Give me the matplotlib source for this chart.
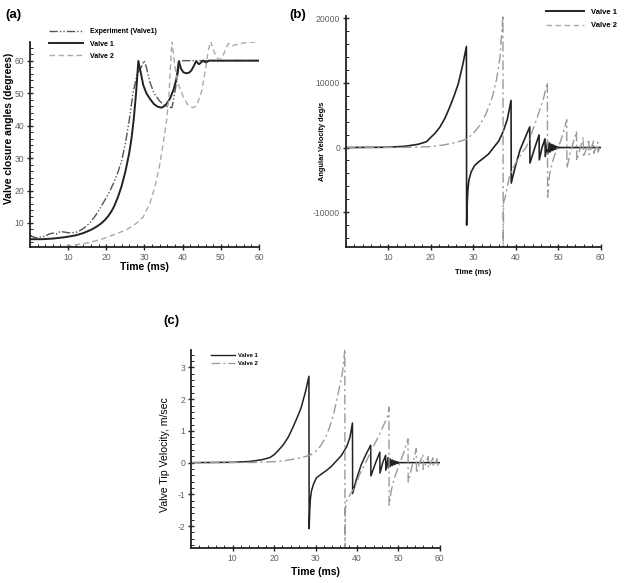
import numpy as np
import matplotlib.pyplot as plt
from matplotlib.lines import Line2D
from matplotlib.ticker import MultipleLocator

# Datos
# (a) angulo de cierre de la valvula (grados)
a_exp_t = [0, 1, 2, 3, 4, 5, 6, 7, 8, 9, 10, 11, 12, 13, 14, 15, 16, 17, 18, 19, 20,
           21, 22, 23, 24, 25, 26, 27, 28, 28.8, 29.3, 29.9, 30.5, 31.4, 32.5, 34, 35.5,
           37.2, 38.0, 38.7, 39.3, 47, 60]
a_exp_v = [6.3, 5.6, 5.4, 5.8, 5.9, 6.6, 6.9, 6.6, 7.4, 7.2, 7.0, 7.0, 7.1, 7.6, 8.3,
           9.3, 10.5, 12.0, 13.8, 15.8, 17.8, 20.0, 22.5, 25.5, 29.0, 34.5, 41.5, 50.0,
           55.5, 57.5, 58.2, 60.0, 58.0, 53.5, 50.0, 47.5, 46.0, 45.5, 50.5, 55.5, 60.0,
           60.0, 60.0]

a_v1_t = [0, 3, 6, 9, 12, 14, 16, 17.5, 18.7, 19.7, 20.5, 21.3, 22, 23, 24, 25, 26, 26.6,
          27.2, 27.8, 28.4, 29, 29.7, 30.5, 31.4, 32.5, 33.5, 34.5, 35.5, 36.7, 37.6, 38.4,
          39.0, 39.6, 40.2, 41.0, 41.7, 42.3, 43.0, 43.5, 44.3, 45.4, 46.1, 46.9, 60]
a_v1_v = [5.0, 5.0, 5.2, 5.6, 6.2, 6.9, 7.9, 8.9, 9.9, 11.0, 12.1, 13.5, 15.0, 17.8,
          21.3, 25.8, 31.5, 36.0, 42.0, 50.0, 59.9, 56.5, 52.4, 50.0, 48.3, 46.6, 45.8,
          45.5, 46.2, 48.3, 51.0, 54.5, 59.8, 57.5, 56.4, 56.1, 56.3, 57.0, 58.5, 59.8,
          58.9, 60.0, 59.4, 60.0, 60.0]

a_v2_t = [0, 5, 8, 10, 14.8, 18.3, 21.8, 25.3, 27.9, 29.7, 31.4, 32.7, 33.9, 34.9, 35.8,
          36.4, 36.8, 37.2, 38.0, 38.8, 40.2, 41.5, 42.8, 43.7, 45.0, 46.1, 46.7, 47.3,
          48.5, 49.3, 50.2, 51.1, 52.0, 52.8, 54.1, 56.8, 60]
a_v2_v = [1.5, 2.0, 2.6, 2.9, 3.8, 4.8, 6.3, 7.9, 9.9, 11.9, 16.0, 21.1, 27.3, 34.4,
          41.6, 48.8, 58.0, 66.0, 58.0, 52.9, 48.8, 46.1, 45.5, 46.1, 50.7, 58.0, 63.0,
          66.0, 62.0, 60.5, 60.5, 63.0, 65.3, 64.5, 65.0, 65.6, 65.8]

# (b) velocidad angular (deg/s)
b_v1_t = [0, 10, 14, 17, 19, 19.8, 21, 22.2, 23.4, 24.5, 25.5, 26.5, 27.6, 28.4, 28.45,
          28.6, 28.75, 29.0, 29.5, 30.3, 31.3, 32.5, 33.6, 34.8, 36.0, 37.0, 38.0, 38.9,
          38.95, 39.8, 41.0, 42.2, 43.3, 43.35, 44.5, 45.5, 45.55, 46.2, 46.9, 46.95,
          47.5, 47.55, 48.0, 48.05, 48.45, 48.5, 48.85, 48.9, 49.2, 49.25, 49.55, 49.6,
          49.9, 49.95, 50.3, 50.6, 60]
b_v1_v = [0, 50, 200, 500, 900, 1440, 2200, 3200, 4600, 6300, 8000, 9900, 13000, 15650,
          -12000, -8500, -6500, -5000, -3800, -2800, -2200, -1600, -1000, 0, 1000, 2400,
          4300, 7300, -5500, -3200, -400, 1500, 3200, -2400, 0, 1950, -1900, 0, 1350,
          -1400, 900, -950, 700, -700, 500, -500, 380, -380, 260, -260, 170, -170, 100,
          -100, 30, 0, 0]

b_v2_t = [0, 15, 20, 23, 26, 28.5, 30, 31.5, 33, 34.5, 35.5, 36.3, 37.0, 37.05, 37.15,
          37.6, 38.5, 39.5, 40.5, 41.5, 42.5, 43.5, 44.5, 45.5, 46.5, 47.45, 47.5, 48.0,
          48.8, 49.5, 50.4, 51.2, 52.0, 52.05, 52.8, 53.5, 54.3, 54.35, 55.0, 55.9, 55.95,
          56.6, 57.2, 57.25, 57.8, 58.3, 58.35, 58.9, 59.3, 59.35, 59.8, 60]
b_v2_v = [0, 30, 150, 400, 800, 1300, 2200, 3400, 5200, 7800, 10600, 14000, 20500,
          -16500, -8500, -7500, -4500, -3000, -1800, -800, 100, 1800, 3600, 5500, 7500,
          10100, -7700, -4000, -1900, -500, 700, 2300, 4300, -3200, -800, 700, 2500,
          -2000, -500, 1600, -1500, -200, 1300, -1100, -100, 1000, -900, 0, 800, -700,
          0, 300]

# (c) velocidad de la punta (m/s)
c_v1_t = [0, 10, 14, 17, 19, 20, 21, 22.2, 23.4, 24.5, 25.5, 26.5, 27.6, 28.4, 28.45,
          28.6, 28.75, 29.0, 29.5, 30.2, 31.3, 32.6, 33.8, 35.0, 36.2, 37.5, 38.3, 38.9,
          38.95, 39.8, 41.0, 42.2, 43.3, 43.35, 44.5, 45.5, 45.55, 46.2, 46.9, 46.95,
          47.5, 47.55, 48.0, 48.05, 48.45, 48.5, 48.85, 48.9, 49.2, 49.25, 49.55, 49.6,
          49.9, 49.95, 50.3, 50.6, 60]
c_v1_v = [0, 0.01, 0.035, 0.09, 0.16, 0.25, 0.38, 0.56, 0.8, 1.1, 1.4, 1.72, 2.25, 2.72,
          -2.08, -1.5, -1.15, -0.9, -0.68, -0.48, -0.37, -0.25, -0.12, 0.05, 0.22, 0.5,
          0.8, 1.25, -0.97, -0.55, -0.07, 0.27, 0.55, -0.42, 0.0, 0.33, -0.33, 0.0, 0.23,
          -0.24, 0.16, -0.17, 0.12, -0.12, 0.09, -0.09, 0.065, -0.065, 0.045, -0.045,
          0.03, -0.03, 0.018, -0.018, 0.005, 0, 0]

c_v2_t = [0, 15, 20, 23, 26, 28.6, 30, 31, 32.3, 33.4, 34.3, 35.1, 35.8, 36.3, 36.7,
          37.06, 37.1, 37.2, 37.5, 38.5, 39.5, 40.7, 41.9, 43.1, 44.3, 45.5, 46.5, 47.5,
          47.7, 47.75, 48.3, 49.1, 50.3, 51.3, 52.3, 52.35, 53.3, 54.3, 54.35, 55.1,
          55.9, 55.95, 56.6, 57.2, 57.25, 57.8, 58.3, 58.35, 58.9, 59.3, 59.35, 59.8, 60]
c_v2_v = [0, 0.005, 0.03, 0.07, 0.14, 0.23, 0.35, 0.49, 0.75, 1.12, 1.5, 1.96, 2.4, 2.69,
          3.05, 3.6, -3.0, -1.45, -1.19, -0.97, -0.77, -0.35, -0.05, 0.28, 0.6, 0.91,
          1.2, 1.49, 1.75, -1.34, -0.85, -0.45, -0.03, 0.33, 0.75, -0.61, -0.1, 0.44,
          -0.33, 0.0, 0.26, -0.21, -0.02, 0.2, -0.16, -0.02, 0.15, -0.12, 0.0, 0.12,
          -0.1, 0.0, 0.05]

plt.rcParams['font.family'] = ['Liberation Sans', 'DejaVu Sans']
plt.rcParams['axes.unicode_minus'] = False

DARK = '#222222'
GRAY = '#9a9a9a'
TICK = '#606060'
DASHDOT = (0, (7, 2.5, 1.5, 2.5))
EXPSTYLE = (0, (6, 1.5, 1, 1.5, 1, 1.5))


def estilo_ejes(ax, ymin_step):
    # estilo tipo Tecplot: solo ejes izquierdo e inferior, ticks hacia dentro
    for s in ['top', 'right']:
        ax.spines[s].set_visible(False)
    for s in ['left', 'bottom']:
        ax.spines[s].set_linewidth(1.3)
        ax.spines[s].set_color(DARK)
    ax.set_xlim(0, 60)
    ax.set_xticks([10, 20, 30, 40, 50, 60])
    ax.xaxis.set_minor_locator(MultipleLocator(2))
    ax.yaxis.set_minor_locator(MultipleLocator(ymin_step))
    ax.tick_params(which='major', direction='inout', length=5, width=1.0,
                   color=DARK, labelcolor=TICK, labelsize=6.2, pad=1.5)
    ax.tick_params(which='minor', direction='in', length=2.5, width=0.7, color=DARK)


fig = plt.figure(figsize=(6.24, 5.83), dpi=100)

# ---------- (a) ----------
ax_a = fig.add_axes([0.048, 0.5763, 0.367, 0.352])
ax_a.plot(a_exp_t, a_exp_v, color='#555555', lw=1.0, linestyle=EXPSTYLE)
ax_a.plot(a_v1_t, a_v1_v, color=DARK, lw=1.4)
ax_a.plot(a_v2_t, a_v2_v, color='#aaaaaa', lw=1.0, linestyle=(0, (4, 2.5)))
ax_a.set_ylim(2.6, 65.8)
ax_a.set_yticks([10, 20, 30, 40, 50, 60])
estilo_ejes(ax_a, 2)
ax_a.set_xlabel('Time (ms)', fontsize=7.5, fontweight='bold', labelpad=0)
ax_a.set_ylabel('Valve closure angles (degrees)', fontsize=7.4, fontweight='bold')
ax_a.yaxis.set_label_coords(-0.07, 0.58)

h_a = [Line2D([], [], color='#555555', lw=1.0, linestyle=EXPSTYLE),
       Line2D([], [], color=DARK, lw=1.4),
       Line2D([], [], color='#aaaaaa', lw=1.0, linestyle=(0, (4, 2.5)))]
fig.legend(h_a, ['Experiment (Valve1)', 'Valve 1', 'Valve 2'], loc='upper left',
           bbox_to_anchor=(0.068, 0.962), frameon=False, handlelength=4.9,
           handletextpad=1.0, labelspacing=0.75,
           prop={'size': 5, 'weight': 'bold'})

fig.text(0.008, 0.985, '(a)', fontsize=9.5, fontweight='bold', va='top')

# ---------- (b) ----------
ax_b = fig.add_axes([0.554, 0.5763, 0.4087, 0.3955])
ax_b.plot(b_v1_t, b_v1_v, color=DARK, lw=1.2)
ax_b.plot(b_v2_t, b_v2_v, color=GRAY, lw=1.0, linestyle=DASHDOT)
ax_b.set_ylim(-15400, 20300)
ax_b.set_yticks([-10000, 0, 10000, 20000])
estilo_ejes(ax_b, 2000)
ax_b.set_xlabel('Time (ms)', fontsize=5.5, fontweight='bold', labelpad=5)
ax_b.set_ylabel('Angular Velocity deg/s', fontsize=5.3, fontweight='bold')
ax_b.yaxis.set_label_coords(-0.078, 0.46)

h_b = [Line2D([], [], color=DARK, lw=1.4),
       Line2D([], [], color='#aaaaaa', lw=1.0, linestyle=(0, (4, 2.5)))]
fig.legend(h_b, ['Valve 1', 'Valve 2'], loc='upper left',
           bbox_to_anchor=(0.864, 0.997), frameon=False, handlelength=5.0,
           handletextpad=0.9, labelspacing=0.8,
           prop={'size': 5.5, 'weight': 'bold'})

fig.text(0.463, 0.985, '(b)', fontsize=9.5, fontweight='bold', va='top')

# ---------- (c) ----------
ax_c = fig.add_axes([0.3064, 0.0595, 0.3986, 0.3402])
ax_c.plot(c_v1_t, c_v1_v, color=DARK, lw=1.1)
ax_c.plot(c_v2_t, c_v2_v, color=GRAY, lw=1.0, linestyle=DASHDOT)
ax_c.set_ylim(-2.7, 3.55)
ax_c.set_yticks([-2, -1, 0, 1, 2, 3])
estilo_ejes(ax_c, 0.2)
ax_c.set_xlabel('Time (ms)', fontsize=7.5, fontweight='bold', labelpad=3)
ax_c.set_ylabel('Valve Tip Velocity, m/sec', fontsize=7.6)
ax_c.yaxis.set_label_coords(-0.085, 0.47)

h_c = [Line2D([], [], color=DARK, lw=1.0),
       Line2D([], [], color=GRAY, lw=0.9, linestyle=DASHDOT)]
ax_c.legend(h_c, ['Valve 1', 'Valve 2'], loc='upper left',
            bbox_to_anchor=(0.06, 1.01), frameon=False, handlelength=4.0,
            handletextpad=0.5, labelspacing=0.45,
            prop={'size': 4.2, 'weight': 'bold'})

fig.text(0.262, 0.46, '(c)', fontsize=9.5, fontweight='bold', va='top')

plt.savefig('out.png', dpi=100)
